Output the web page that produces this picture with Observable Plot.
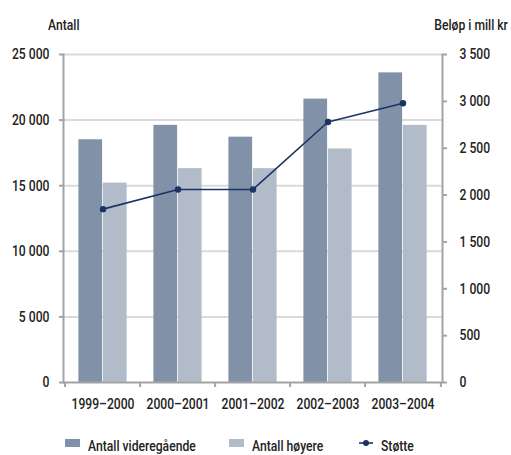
<!DOCTYPE html>
<html>
<head>
<meta charset="utf-8">
<script src="https://cdn.jsdelivr.net/npm/d3@7"></script>
<script src="https://cdn.jsdelivr.net/npm/@observablehq/plot@0.6"></script>
<style>
  html, body { margin: 0; padding: 0; background: #fff; }
  #wrap { position: relative; width: 511px; height: 455px; font-family: Roboto, sans-serif; font-weight: 500; color: #222; font-size: 15px; overflow: hidden; }
  #wrap svg { position: absolute; left: 0; top: 0; }
  .lab { position: absolute; top: 16px; white-space: nowrap; line-height: 18px; }
  .cond { display: inline-block; transform: scaleX(0.81); }
  #legend { position: absolute; top: 439px; left: 0; width: 511px; height: 15px; }
  .item { position: absolute; top: 0; white-space: nowrap; line-height: 15px; height: 15px; }
  .sw { position: absolute; top: 4px; left: 0; }
  .item .cond { position: absolute; top: 0; line-height: 15px; transform-origin: left center; }
</style>
</head>
<body>
<div id="wrap">
  <div class="lab" style="left:48px;"><span class="cond" style="transform-origin:left center;">Antall</span></div>
  <div class="lab" style="right:3px;"><span class="cond" style="transform-origin:right center;">Beløp i mill kr</span></div>
  <div id="legend"></div>
</div>
<script>
const years = ["1999–2000", "2000–2001", "2001–2002", "2002–2003", "2003–2004"];
const videregaende = [18500, 19600, 18700, 21600, 23600];
const hoyere = [15200, 16300, 16300, 17800, 19600];
const stotte = [1850, 2060, 2060, 2780, 2980];
const leftTicks = [0, 5000, 10000, 15000, 20000, 25000];
const rightTicks = [0, 500, 1000, 1500, 2000, 2500, 3000, 3500];
const leftMax = 25000;
const rightMax = 3500;

const seriesNames = ["Antall videregående", "Antall høyere", "Støtte"];
const colors = ["#8192a8", "#b2bcc9", "#1b3364"];

const ratio = leftMax / rightMax;
const fmt = v => d3.format(",")(v).replace(/,/g, " ");

const W = 511, H = 425, mL = 63, mR = 69, mT = 54, mB = 43;
const bw = (W - mL - mR) / years.length;
const barW = 24.5;
const sideInset = bw / 2 - barW;

const dataV = years.map((y, i) => ({year: y, v: videregaende[i]}));
const dataH = years.map((y, i) => ({year: y, v: hoyere[i]}));
const dataS = years.map((y, i) => ({year: y, v: stotte[i]}));

const axisColor = "#a3a3a3";

const chart = Plot.plot({
  width: W, height: H,
  marginTop: mT, marginBottom: mB, marginLeft: mL, marginRight: mR,
  style: {fontFamily: "Roboto, sans-serif", fontSize: "15px", fontWeight: 500, color: "#222", background: "transparent"},
  x: {domain: years, padding: 0, axis: null},
  y: {domain: [0, leftMax], axis: null},
  marks: [
    Plot.ruleY(leftTicks.filter(d => d > 0), {stroke: "#dadada", strokeWidth: 2}),
    Plot.barY(dataV, {x: "year", y: "v", fill: colors[0], insetLeft: sideInset, insetRight: bw / 2}),
    Plot.barY(dataH, {x: "year", y: "v", fill: colors[1], insetLeft: bw / 2, insetRight: sideInset}),
    Plot.line(dataS, {x: "year", y: d => d.v * ratio, stroke: colors[2], strokeWidth: 1.6}),
    Plot.dot(dataS, {x: "year", y: d => d.v * ratio, fill: colors[2], r: 3.2}),
    Plot.frame({anchor: "left", stroke: axisColor, strokeWidth: 2}),
    Plot.frame({anchor: "right", stroke: axisColor, strokeWidth: 2}),
    Plot.ruleY([0], {stroke: axisColor, strokeWidth: 2}),
    Plot.tickX(years, {x: d => d, dx: -bw / 2, stroke: axisColor, strokeWidth: 2, insetTop: H - mT - mB, insetBottom: -5}),
    Plot.tickX([years[years.length - 1]], {x: d => d, dx: bw / 2, stroke: axisColor, strokeWidth: 2, insetTop: H - mT - mB, insetBottom: -5}),
    Plot.axisX(years, {label: null, tickSize: 0, tickPadding: 16, fill: "#222", fontSize: 15}),
    Plot.axisY(leftTicks, {anchor: "left", label: null, tickSize: 4, tickPadding: 10, stroke: axisColor, strokeWidth: 2, fill: "#222", tickFormat: fmt}),
    Plot.axisY(rightTicks.map(t => t * ratio), {anchor: "right", label: null, tickSize: 4, tickPadding: 13, stroke: axisColor, strokeWidth: 2, fill: "#222", textAnchor: "start", tickFormat: d => fmt(Math.round(d / ratio))})
  ]
});
document.getElementById("wrap").prepend(chart);

// condense SVG text to mimic a narrow typeface
chart.querySelectorAll("text").forEach(t => {
  const len = t.getComputedTextLength();
  if (len > 0) {
    t.setAttribute("textLength", (len * 0.81).toFixed(2));
    t.setAttribute("lengthAdjust", "spacingAndGlyphs");
  }
});

const legend = document.getElementById("legend");
const pos = [65, 229, 359];
seriesNames.forEach((name, i) => {
  const it = document.createElement("div");
  it.className = "item";
  it.style.left = pos[i] + "px";
  let sw;
  if (i < 2) {
    sw = `<svg class="sw" width="15" height="8"><rect width="15" height="8" fill="${colors[i]}"/></svg>`;
  } else {
    sw = `<svg class="sw" width="14" height="8"><line x1="0" x2="14" y1="4" y2="4" stroke="${colors[i]}" stroke-width="1.6"/><circle cx="7" cy="4" r="3" fill="${colors[i]}"/></svg>`;
  }
  const tx = i < 2 ? 23 : 22;
  it.innerHTML = sw + `<span class="cond" style="left:${tx}px">${name}</span>`;
  legend.appendChild(it);
});
</script>
</body>
</html>
